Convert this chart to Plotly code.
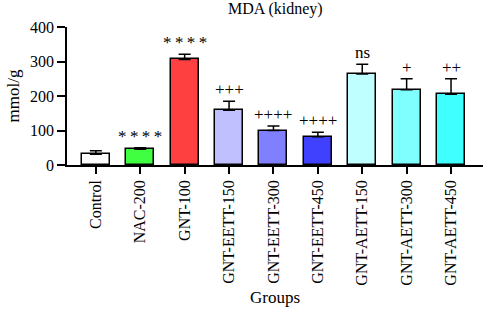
import plotly.graph_objects as go

groups = ["Control", "NAC-200", "GNT-100", "GNT-EETT-150", "GNT-EETT-300",
          "GNT-EETT-450", "GNT-AETT-150", "GNT-AETT-300", "GNT-AETT-450"]
means = [31, 46, 306, 159, 100, 82, 264, 218, 205]
errors = [10, 4, 15, 26, 13, 13, 28, 32, 45]
labels = ["", "****", "****", "+++", "++++", "++++", "ns", "+", "++"]
colors = ["#FFFFFF", "#40FF40", "#FF4040", "#C0C0FF", "#8080FF",
          "#4040FF", "#C0FFFF", "#80FFFF", "#40FFFF"]

FONT = "Liberation Serif"
x = list(range(len(groups)))

fig = go.Figure()
fig.add_trace(go.Bar(
    x=x, y=means, width=0.63,
    marker=dict(color=colors, line=dict(color="black", width=1.5)),
    error_y=dict(type="data", array=errors, arrayminus=[0] * len(errors),
                 symmetric=False, color="black", thickness=1.5, width=6),
    showlegend=False,
))

for xi, m, e, t in zip(x, means, errors, labels):
    if t:
        txt = "\u2009".join(t) if "*" in t else t
        fig.add_annotation(x=xi, y=m + e, text=txt, showarrow=False,
                           yanchor="bottom", yshift=0,
                           font=dict(family=FONT, size=17, color="#000000"))

fig.update_layout(
    width=483, height=314,
    margin=dict(l=67, r=0, t=27, b=149),
    plot_bgcolor="white", paper_bgcolor="white",
    font=dict(family=FONT, color="black"),
    title=dict(text="MDA (kidney)", x=0.57, xanchor="center", y=0.99, yanchor="top",
               pad=dict(t=0), font=dict(family=FONT, size=16, color="black")),
    bargap=0,
)
fig.update_xaxes(
    range=[-0.65, 8.72], tickmode="array", tickvals=x, ticktext=groups,
    tickangle=-90, ticks="outside", ticklen=7, tickwidth=1.5, tickcolor="black",
    showline=True, linecolor="black", linewidth=1.5, showgrid=False, zeroline=False,
    tickfont=dict(family=FONT, size=16),
    title=dict(text="Groups", font=dict(family=FONT, size=17), standoff=6),
)
fig.update_yaxes(
    range=[0, 400], tickvals=[0, 100, 200, 300, 400],
    ticks="outside", ticklen=8, tickwidth=1.5, tickcolor="black",
    showline=True, linecolor="black", linewidth=1.5, showgrid=False, zeroline=False,
    tickfont=dict(family=FONT, size=16),
    title=dict(text="mmol/g", font=dict(family=FONT, size=17), standoff=6),
)

fig.write_html("out.html")
